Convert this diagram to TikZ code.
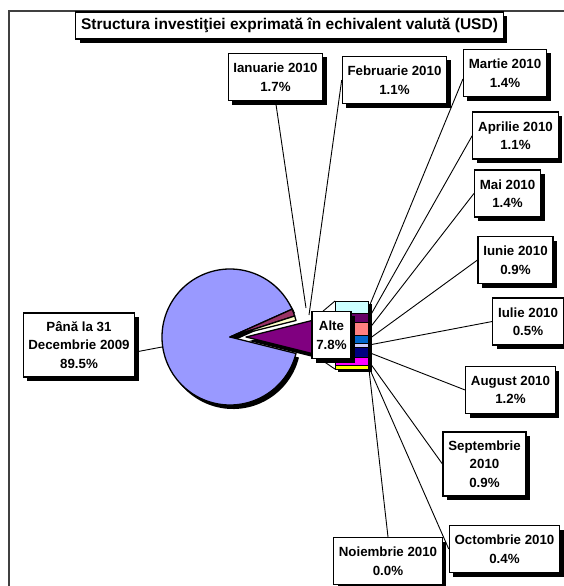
\documentclass[tikz,border=0pt]{standalone}
\usepackage{fontspec}
\setmainfont{Liberation Sans}
\usetikzlibrary{shadows}

\definecolor{pieblue}{HTML}{9999FF}
\definecolor{ianmaroon}{HTML}{993366}
\definecolor{febcream}{HTML}{FFFFCC}
\definecolor{altepurple}{HTML}{800080}
\definecolor{marcyan}{HTML}{CCFFFF}
\definecolor{aprplum}{HTML}{660066}
\definecolor{maisalmon}{HTML}{FF8080}
\definecolor{iunblue}{HTML}{0066CC}
\definecolor{iullav}{HTML}{CCCCFF}
\definecolor{augnavy}{HTML}{000080}
\definecolor{sepmagenta}{HTML}{FF00FF}
\definecolor{octyellow}{HTML}{FFFF00}
\definecolor{framegray}{HTML}{404040}

\begin{document}
\begin{tikzpicture}[
        x=1pt, y=-1pt,
        every node/.style={font=\bfseries\fontsize{13.3}{18.5}\selectfont},
        lbl/.style={draw, fill=white, line width=1.1pt, align=center,
            inner xsep=5.3pt, inner ysep=2pt, minimum height=47pt,
            drop shadow={shadow xshift=4pt, shadow yshift=-4pt, opacity=1, fill=black}},
        slice/.style={draw, line width=1.3pt, line join=round},
        segment/.style={draw, line width=0.8pt},
        leader/.style={line width=0.9pt},
    ]
        \useasboundingbox (0,0) rectangle (564,586);

        % Outer frame (left and top only)
        \draw[framegray, line width=1.5pt] (9,586) -- (9,11) -- (564,11);

        % Pie shadows
        \begin{scope}[shift={(3,4)}]
            \fill[black] (230,337) -- +(-24.12:68) arc[start angle=-24.12, end angle=-345.96, radius=68] -- cycle;
            \fill[black] (246,337) -- +(14.04:68) arc[start angle=14.04, end angle=-14.04, radius=68] -- cycle;
        \end{scope}

        % Pie slices
        \draw[slice, fill=pieblue] (230,337) -- +(-24.12:68) arc[start angle=-24.12, end angle=-345.96, radius=68] -- cycle;
        \draw[slice, fill=ianmaroon] (230,337) -- +(-18:68) arc[start angle=-18, end angle=-24.12, radius=68] -- cycle;
        \draw[slice, fill=febcream] (230,337) -- +(-14.04:68) arc[start angle=-14.04, end angle=-18, radius=68] -- cycle;
        \draw[slice, fill=altepurple] (246,337) -- +(14.04:68) arc[start angle=14.04, end angle=-14.04, radius=68] -- cycle;

        % Bar of the "Alte" slice
        \fill[black] (338,304) rectangle (372,372);
        \draw[segment, fill=marcyan] (335,301) rectangle (368,313.2);
        \draw[segment, fill=aprplum] (335,313.2) rectangle (368,322.8);
        \draw[segment, fill=maisalmon] (335,322.8) rectangle (368,335);
        \draw[segment, fill=iunblue] (335,335) rectangle (368,342.9);
        \draw[segment, fill=iullav] (335,342.9) rectangle (368,347.2);
        \draw[segment, fill=augnavy] (335,347.2) rectangle (368,357.7);
        \draw[segment, fill=sepmagenta] (335,357.7) rectangle (368,365.6);
        \draw[segment, fill=octyellow] (335,365.6) rectangle (368,369.1);

        % Points where the lines meet the chart
        \coordinate (alteTop) at (312,320.5);
        \coordinate (alteBot) at (312,353.5);
        \coordinate (barTop) at (335,301);
        \coordinate (barBot) at (335,369.1);
        \coordinate (pPana) at (162,347);
        \coordinate (pIan) at (306,308);
        \coordinate (pFeb) at (309,315);
        \coordinate (bMar) at (369,307);
        \coordinate (bApr) at (369,318);
        \coordinate (bMai) at (369,329);
        \coordinate (bIun) at (369,339);
        \coordinate (bIul) at (369,345);
        \coordinate (bAug) at (369,352.5);
        \coordinate (bSep) at (369,361.6);
        \coordinate (bOct) at (369,367.3);
        \coordinate (bNov) at (369,369.5);

        % Lines from the slice to the bar
        \draw[leader] (alteTop) -- (barTop);
        \draw[leader] (alteBot) -- (barBot);

        % Label nodes
        \node[lbl, font=\bfseries\fontsize{15.5}{18}\selectfont, minimum height=27pt] (title) at (289.5,25.5) {Structura investiţiei exprimată în echivalent valută (USD)};
        \node[lbl, minimum height=64pt] (pana) at (79,345) {Până la 31\\Decembrie 2009\\89.5\%};
        \node[lbl] (ian) at (275.5,77) {Ianuarie 2010\\1.7\%};
        \node[lbl] (feb) at (394.5,80) {Februarie 2010\\1.1\%};
        \node[lbl] (mar) at (505,73) {Martie 2010\\1.4\%};
        \node[lbl] (apr) at (515.5,135.5) {Aprilie 2010\\1.1\%};
        \node[lbl] (mai) at (507.5,193.5) {Mai 2010\\1.4\%};
        \node[lbl] (iun) at (515.5,260) {Iunie 2010\\0.9\%};
        \node[lbl] (iul) at (528,321.5) {Iulie 2010\\0.5\%};
        \node[lbl] (aug) at (510.5,390) {August 2010\\1.2\%};
        \node[lbl, minimum height=64pt] (sep) at (484.5,464) {Septembrie\\2010\\0.9\%};
        \node[lbl] (oct) at (504.5,549) {Octombrie 2010\\0.4\%};
        \node[lbl] (nov) at (388,561) {Noiembrie 2010\\0.0\%};
        \node[lbl, inner xsep=4.3pt] (alte) at (331.5,335) {Alte\\7.8\%};

        % Leader lines (label -> slice or bar segment)
        \draw[leader] ([yshift=-7pt]pana.east) -- (pPana);
        \draw[leader] (ian.south) -- (pIan);
        \draw[leader] (feb.west) -- (pFeb);
        \draw[leader] ([yshift=-6pt]mar.west) -- (bMar);
        \draw[leader] (apr.west) -- (bApr);
        \draw[leader] (mai.west) -- (bMai);
        \draw[leader] (iun.west) -- (bIun);
        \draw[leader] (iul.west) -- (bIul);
        \draw[leader] (aug.west) -- (bAug);
        \draw[leader] (sep.west) -- (bSep);
        \draw[leader] (oct.west) -- (bOct);
        \draw[leader] (nov.north) -- (bNov);
    \end{tikzpicture}
\end{document}
